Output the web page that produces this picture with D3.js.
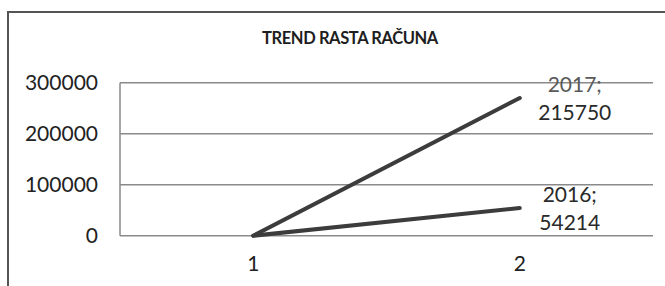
<!DOCTYPE html>
<html>
<head>
<meta charset="utf-8">
<script src="https://cdn.jsdelivr.net/npm/d3@7"></script>
<style>
  body { margin: 0; background: #fff; }
  svg text { font-family: Lato, "Open Sans", sans-serif; }
</style>
</head>
<body>
<div class="graph"></div>
<script>
var categories = ["1", "2"];
var seriesNames = ["2016", "2017"];
var values2016 = [0, 54214];
var values2017 = [0, 215750];
var yTicks = [0, 100000, 200000, 300000];

var loadChart = function () {
    const WIDTH = 665;
    const HEIGHT = 286;
    const LEFT = 120, RIGHT = 653, TOP = 82.7, BOTTOM = 235.7;

    var rows = categories.map(function (c, i) {
        return {cat: c, "2016": values2016[i], "2017": values2017[i]};
    });
    var stacked = d3.stack().keys(seriesNames)(rows);

    var x = d3.scaleBand().domain(categories).range([LEFT, RIGHT]);
    var y = d3.scaleLinear().domain([0, 300000]).range([BOTTOM, TOP]);
    var cx = function (c) { return x(c) + x.bandwidth() / 2; };

    var svg = d3.select(".graph").append("svg")
        .attr("width", WIDTH)
        .attr("height", HEIGHT);

    // outer frame (only top and left edges visible in the crop)
    svg.append("path")
        .attr("d", "M8," + HEIGHT + "V12H" + WIDTH)
        .style("fill", "none")
        .style("stroke", "#555")
        .style("stroke-width", 2);

    svg.append("text")
        .attr("x", 350).attr("y", 44)
        .attr("text-anchor", "middle")
        .style("font-size", "16.5px")
        .style("font-weight", "bold")
        .style("letter-spacing", "-0.4px")
        .style("fill", "#1e1e1e")
        .text("TREND RASTA RAČUNA");

    // gridlines
    svg.append("g").selectAll("line").data(yTicks).join("line")
        .attr("x1", LEFT).attr("x2", RIGHT)
        .attr("y1", function (d) { return y(d); })
        .attr("y2", function (d) { return y(d); })
        .style("stroke", "#8a8a8a")
        .style("stroke-width", 1.5);

    svg.append("line")
        .attr("x1", LEFT).attr("x2", LEFT)
        .attr("y1", y(300000)).attr("y2", y(0))
        .style("stroke", "#8a8a8a")
        .style("stroke-width", 1.5);

    var yAxis = d3.axisLeft(y).tickValues(yTicks).tickSize(0).tickPadding(22)
        .tickFormat(d3.format("d"));
    var gy = svg.append("g")
        .attr("transform", "translate(" + LEFT + ",0)")
        .call(yAxis);
    gy.select(".domain").remove();
    gy.selectAll("text")
        .style("font-size", "21px")
        .style("font-family", "Lato, sans-serif")
        .style("fill", "#222");

    var xAxis = d3.axisBottom(x).tickSize(0).tickPadding(20);
    var gx = svg.append("g")
        .attr("transform", "translate(0," + BOTTOM + ")")
        .call(xAxis);
    gx.select(".domain").remove();
    gx.selectAll("text")
        .style("font-size", "21px")
        .style("font-family", "Lato, sans-serif")
        .style("fill", "#222");

    var line = d3.line()
        .x(function (d) { return cx(d.data.cat); })
        .y(function (d) { return y(d[1]); });

    svg.append("g").selectAll("path").data(stacked).join("path")
        .attr("d", line)
        .style("fill", "none")
        .style("stroke", "#3c3c3c")
        .style("stroke-width", 4)
        .style("stroke-linecap", "round");

    // data labels at the last point
    var lastIdx = categories.length - 1;
    var labelOffsets = {"2016": [50, -6], "2017": [55, -6]};
    var labelTop = {"2016": "#2a2a2a", "2017": "#5a5a5a"};
    stacked.forEach(function (s) {
        var p = s[lastIdx];
        var off = labelOffsets[s.key];
        var lx = cx(p.data.cat) + off[0];
        var t = svg.append("text")
            .attr("x", lx)
            .attr("y", y(p[1]) + off[1])
            .attr("text-anchor", "middle")
            .style("font-size", "21px")
            .style("fill", "#2a2a2a");
        t.append("tspan").attr("x", lx).attr("dy", 0)
            .style("fill", labelTop[s.key])
            .text(s.key + ";");
        t.append("tspan").attr("x", lx).attr("dy", 28)
            .text(d3.format("d")(s.key === "2016" ? values2016[lastIdx] : values2017[lastIdx]));
    });
};

window.onload = loadChart;
</script>
</body>
</html>
